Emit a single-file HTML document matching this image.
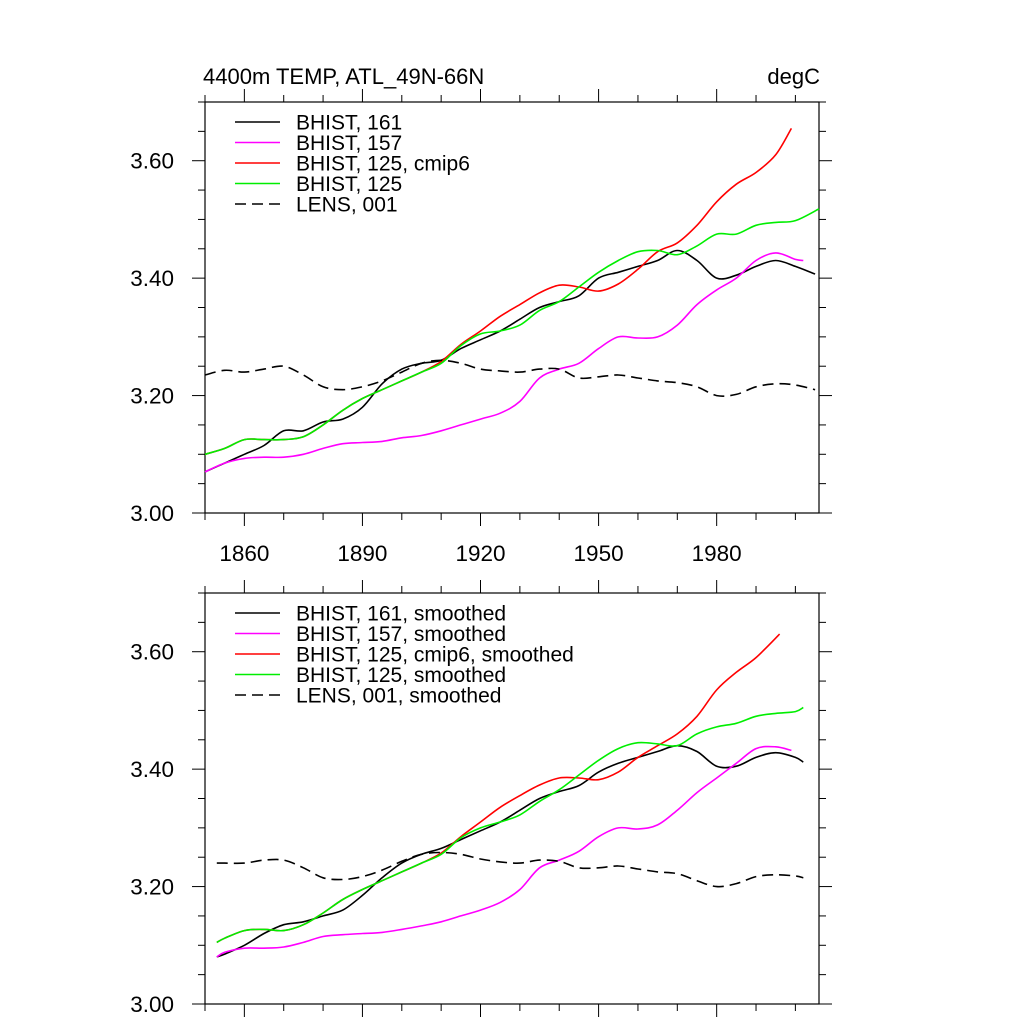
<!DOCTYPE html>
<html><head><meta charset="utf-8"><style>
body{margin:0;background:#fff}
svg{display:block;font-family:"Liberation Sans",sans-serif}
</style></head><body>
<svg id="chart" width="1024" height="1024" viewBox="0 0 1024 1024" xmlns="http://www.w3.org/2000/svg"></svg>
<script>
// ---- Top panel data ----
const topBlackYears=[1850,1855,1860,1865,1870,1875,1880,1885,1890,1895,1900,1905,1910,1915,1920,1925,1930,1935,1940,1945,1950,1955,1960,1965,1970,1975,1980,1985,1990,1995,2000,2005];
const topBlack=[3.07,3.085,3.10,3.115,3.14,3.14,3.155,3.16,3.18,3.22,3.245,3.255,3.26,3.28,3.295,3.31,3.33,3.35,3.36,3.37,3.40,3.41,3.42,3.43,3.447,3.43,3.40,3.405,3.42,3.43,3.42,3.407];
const topMagentaYears=[1850,1855,1860,1865,1870,1875,1880,1885,1890,1895,1900,1905,1910,1915,1920,1925,1930,1935,1940,1945,1950,1955,1960,1965,1970,1975,1980,1985,1990,1995,2000,2002];
const topMagenta=[3.07,3.085,3.093,3.095,3.095,3.10,3.11,3.118,3.12,3.122,3.128,3.132,3.14,3.15,3.16,3.17,3.19,3.23,3.245,3.255,3.28,3.30,3.298,3.30,3.32,3.355,3.38,3.40,3.43,3.443,3.432,3.43];
const topRedYears=[1850,1855,1860,1865,1870,1875,1880,1885,1890,1895,1900,1905,1910,1915,1920,1925,1930,1935,1940,1945,1950,1955,1960,1965,1970,1975,1980,1985,1990,1995,1999];
const topRed=[3.10,3.11,3.125,3.125,3.125,3.13,3.15,3.175,3.195,3.21,3.225,3.24,3.258,3.287,3.31,3.335,3.355,3.375,3.388,3.385,3.378,3.39,3.415,3.445,3.46,3.49,3.53,3.56,3.58,3.61,3.655];
const topGreenYears=[1850,1855,1860,1865,1870,1875,1880,1885,1890,1895,1900,1905,1910,1915,1920,1925,1930,1935,1940,1945,1950,1955,1960,1965,1970,1975,1980,1985,1990,1995,2000,2006];
const topGreen=[3.10,3.11,3.125,3.125,3.125,3.13,3.15,3.175,3.195,3.21,3.225,3.24,3.255,3.285,3.305,3.31,3.32,3.345,3.36,3.385,3.41,3.43,3.445,3.447,3.44,3.455,3.475,3.475,3.49,3.495,3.498,3.518];
const topLensYears=[1850,1855,1860,1865,1870,1875,1880,1885,1890,1895,1900,1905,1910,1915,1920,1925,1930,1935,1940,1945,1950,1955,1960,1965,1970,1975,1980,1985,1990,1995,2000,2005];
const topLens=[3.235,3.243,3.24,3.245,3.25,3.235,3.215,3.21,3.215,3.225,3.24,3.255,3.26,3.255,3.245,3.242,3.24,3.245,3.245,3.23,3.232,3.235,3.23,3.225,3.222,3.215,3.20,3.202,3.215,3.22,3.218,3.21];
// ---- Bottom panel data (smoothed) ----
const botBlackYears=[1853,1855,1860,1865,1870,1875,1880,1885,1890,1895,1900,1905,1910,1915,1920,1925,1930,1935,1940,1945,1950,1955,1960,1965,1970,1975,1980,1985,1990,1995,2000,2002];
const botBlack=[3.08,3.085,3.10,3.12,3.135,3.14,3.15,3.16,3.185,3.215,3.24,3.255,3.265,3.28,3.295,3.31,3.33,3.35,3.362,3.372,3.395,3.41,3.42,3.43,3.44,3.43,3.405,3.405,3.42,3.428,3.42,3.412];
const botMagentaYears=[1853,1855,1860,1865,1870,1875,1880,1885,1890,1895,1900,1905,1910,1915,1920,1925,1930,1935,1940,1945,1950,1955,1960,1965,1970,1975,1980,1985,1990,1995,1999];
const botMagenta=[3.08,3.088,3.095,3.095,3.097,3.105,3.115,3.118,3.12,3.122,3.127,3.133,3.14,3.15,3.16,3.173,3.195,3.232,3.245,3.26,3.285,3.30,3.298,3.305,3.33,3.36,3.385,3.41,3.435,3.438,3.432];
const botRedYears=[1853,1855,1860,1865,1870,1875,1880,1885,1890,1895,1900,1905,1910,1915,1920,1925,1930,1935,1940,1945,1950,1955,1960,1965,1970,1975,1980,1985,1990,1996];
const botRed=[3.105,3.112,3.125,3.127,3.125,3.135,3.155,3.178,3.195,3.21,3.225,3.24,3.257,3.285,3.31,3.335,3.355,3.373,3.385,3.385,3.382,3.395,3.42,3.44,3.46,3.49,3.535,3.565,3.59,3.63];
const botGreenYears=[1853,1855,1860,1865,1870,1875,1880,1885,1890,1895,1900,1905,1910,1915,1920,1925,1930,1935,1940,1945,1950,1955,1960,1965,1970,1975,1980,1985,1990,1995,2000,2002];
const botGreen=[3.105,3.112,3.125,3.127,3.125,3.135,3.155,3.178,3.195,3.21,3.225,3.24,3.255,3.283,3.30,3.31,3.322,3.345,3.365,3.39,3.415,3.435,3.445,3.443,3.44,3.46,3.472,3.478,3.49,3.495,3.498,3.505];
const botLensYears=[1853,1855,1860,1865,1870,1875,1880,1885,1890,1895,1900,1905,1910,1915,1920,1925,1930,1935,1940,1945,1950,1955,1960,1965,1970,1975,1980,1985,1990,1995,2000,2002];
const botLens=[3.24,3.24,3.24,3.245,3.245,3.232,3.215,3.212,3.217,3.228,3.243,3.255,3.258,3.255,3.247,3.242,3.24,3.245,3.243,3.232,3.232,3.235,3.23,3.225,3.222,3.21,3.20,3.205,3.217,3.22,3.218,3.215];
// ---- Axis labels ----
const yTickLabels=["3.00","3.20","3.40","3.60"];
const yTickValues=[3.0,3.2,3.4,3.6];
const xTickLabels=["1860","1890","1920","1950","1980"];
const xTickValues=[1860,1890,1920,1950,1980];
const topLegend=["BHIST, 161","BHIST, 157","BHIST, 125, cmip6","BHIST, 125","LENS, 001"];
const botLegend=["BHIST, 161, smoothed","BHIST, 157, smoothed","BHIST, 125, cmip6, smoothed","BHIST, 125, smoothed","LENS, 001, smoothed"];

const NS="http://www.w3.org/2000/svg";
const svg=document.getElementById('chart');
const X0=205,X1=819,YR0=1850,YR1=2006;
const VMIN=3.0,VMAX=3.7;
function xs(yr){return X0+(yr-YR0)/(YR1-YR0)*(X1-X0);}
function mk(tag,attrs,parent){const e=document.createElementNS(NS,tag);for(const k in attrs)e.setAttribute(k,attrs[k]);(parent||svg).appendChild(e);return e;}
function smoothPath(pts){
  let d="M"+pts[0][0].toFixed(1)+","+pts[0][1].toFixed(1);
  for(let i=0;i<pts.length-1;i++){
    const p0=pts[Math.max(0,i-1)],p1=pts[i],p2=pts[i+1],p3=pts[Math.min(pts.length-1,i+2)];
    const c1x=p1[0]+(p2[0]-p0[0])/6,c1y=p1[1]+(p2[1]-p0[1])/6;
    const c2x=p2[0]-(p3[0]-p1[0])/6,c2y=p2[1]-(p3[1]-p1[1])/6;
    d+=" C"+c1x.toFixed(1)+","+c1y.toFixed(1)+" "+c2x.toFixed(1)+","+c2y.toFixed(1)+" "+p2[0].toFixed(1)+","+p2[1].toFixed(1);
  }
  return d;
}
function panel(prefix,Ytop,Ybot,series,legend,legY,showX){
  const ys=v=>Ybot-(v-VMIN)/(VMAX-VMIN)*(Ybot-Ytop);
  const g=mk('g',{});
  
  
  const tk=mk('g',{stroke:'#000','stroke-width':1},g);
  
  
  for(let yr=1850;yr<=2006;yr+=10){
    const x=xs(yr), major=(yr-1860)%30===0, L=major?13:7;
    mk('line',{x1:x,x2:x,y1:Ybot,y2:Ybot+L},tk);
    mk('line',{x1:x,x2:x,y1:Ytop,y2:Ytop-L},tk);
  }
  for(let k=0;k<=14;k++){
    const v=VMIN+k*0.05, y=ys(v), major=k%4===0, L=major?13:7;
    mk('line',{x1:X0,x2:X0-L,y1:y,y2:y},tk);
    mk('line',{x1:X1,x2:X1+L,y1:y,y2:y},tk);
  }
  const ax=mk('rect',{x:X0,y:Ytop,width:X1-X0,height:Ybot-Ytop,fill:'none',stroke:'#000','stroke-width':1.2},g);
  
  
  yTickValues.forEach((v,i)=>{
    const t=mk('text',{x:174,y:ys(v)+8,'text-anchor':'end','font-size':22.5},g);
    t.textContent=yTickLabels[i];
    
    
  });
  if(showX){xTickValues.forEach((v,i)=>{
    const t=mk('text',{x:xs(v),y:Ybot+48,'text-anchor':'middle','font-size':22.5},g);
    t.textContent=xTickLabels[i];
    
    
  });}
  series.forEach((s,i)=>{
    const pts=s.years.map((yr,j)=>[xs(yr),ys(s.vals[j])]);
    const p=mk('path',{d:smoothPath(pts),fill:'none',stroke:s.color,'stroke-width':1.6},g);
    if(s.dash)p.setAttribute('stroke-dasharray','11,6');
    
    
    const ly=legY+i*20.5;
    const ll=mk('line',{x1:235,x2:280,y1:ly,y2:ly,stroke:s.color,'stroke-width':1.6},g);
    if(s.dash)ll.setAttribute('stroke-dasharray','11,6');
    
    
    const lt=mk('text',{x:296,y:ly+7.5,'font-size':21},g);
    lt.textContent=legend[i];
    
    
  });
}
panel('top',102,513,[
 {id:'bhist-161',years:topBlackYears,vals:topBlack,color:'#000'},
 {id:'bhist-157',years:topMagentaYears,vals:topMagenta,color:'#ff00ff'},
 {id:'bhist-125-cmip6',years:topRedYears,vals:topRed,color:'#ff0000'},
 {id:'bhist-125',years:topGreenYears,vals:topGreen,color:'#00ee00'},
 {id:'lens-001',years:topLensYears,vals:topLens,color:'#000',dash:true}
],topLegend,122,true);
panel('bottom',593,1004,[
 {id:'bhist-161',years:botBlackYears,vals:botBlack,color:'#000'},
 {id:'bhist-157',years:botMagentaYears,vals:botMagenta,color:'#ff00ff'},
 {id:'bhist-125-cmip6',years:botRedYears,vals:botRed,color:'#ff0000'},
 {id:'bhist-125',years:botGreenYears,vals:botGreen,color:'#00ee00'},
 {id:'lens-001',years:botLensYears,vals:botLens,color:'#000',dash:true}
],botLegend,613,false);
const t1=mk('text',{x:203,y:84,'font-size':22});
t1.textContent="4400m TEMP, ATL_49N-66N";


const t2=mk('text',{x:820,y:84,'font-size':22,'text-anchor':'end'});
t2.textContent="degC";


</script>
</body></html>
